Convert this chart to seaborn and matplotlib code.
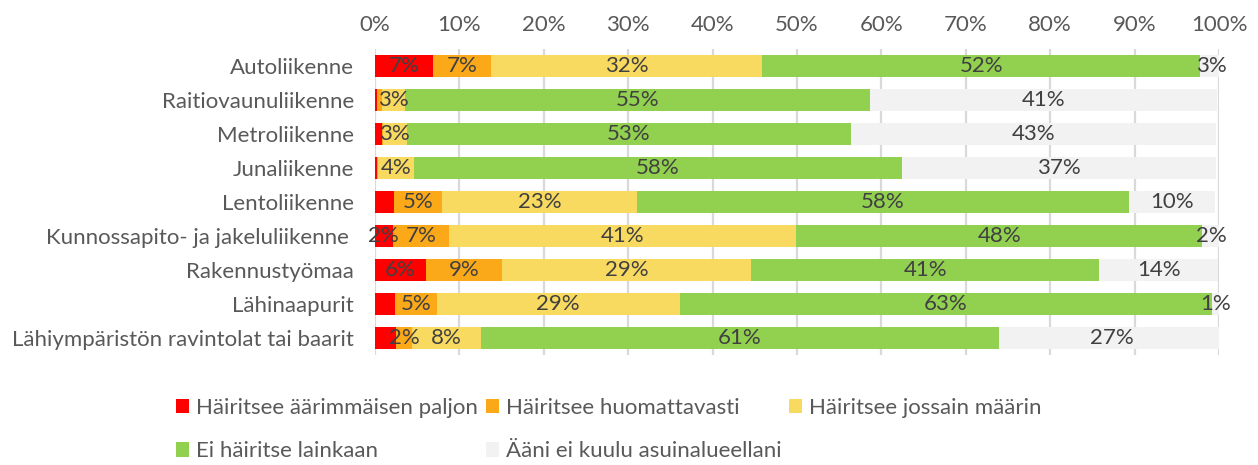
import numpy as np
import seaborn as sns
import matplotlib.pyplot as plt

# categories (top to bottom)
categories = ['Autoliikenne', 'Raitiovaunuliikenne', 'Metroliikenne', 'Junaliikenne',
              'Lentoliikenne', 'Kunnossapito- ja jakeluliikenne ', 'Rakennustyömaa',
              'Lähinaapurit', 'Lähiympäristön ravintolat tai baarit']

series_names = ['Häiritsee äärimmäisen paljon', 'Häiritsee huomattavasti',
                'Häiritsee jossain määrin', 'Ei häiritse lainkaan',
                'Ääni ei kuulu asuinalueellani']

# shares in percent
extreme = [6.9, 0.2, 0.8, 0.2, 2.3, 2.1, 6.0, 2.4, 2.5]
considerable = [6.8, 0.6, 0.1, 0.2, 5.6, 6.7, 9.1, 4.9, 1.9]
somewhat = [32.2, 2.8, 2.9, 4.2, 23.2, 41.1, 29.5, 28.8, 8.1]
not_at_all = [51.9, 55.1, 52.6, 57.8, 58.2, 48.1, 41.2, 63.1, 61.4]
not_heard = [2.7, 41.1, 43.2, 37.3, 10.2, 2.2, 14.1, 0.9, 26.7]

# data labels as shown in the chart ('' = no label)
extreme_lbl = ['7%', '', '', '', '', '2%', '6%', '', '']
considerable_lbl = ['7%', '', '', '', '5%', '7%', '9%', '5%', '2%']
somewhat_lbl = ['32%', '3%', '3%', '4%', '23%', '41%', '29%', '29%', '8%']
not_at_all_lbl = ['52%', '55%', '53%', '58%', '58%', '48%', '41%', '63%', '61%']
not_heard_lbl = ['3%', '41%', '43%', '37%', '10%', '2%', '14%', '1%', '27%']

colors = ['#FF0000', '#FBA919', '#F9DA60', '#92D050', '#F2F2F2']

sns.set_theme(style='white')
plt.rcParams['font.family'] = ['Lato', 'DejaVu Sans']

values = np.array([extreme, considerable, somewhat, not_at_all, not_heard])
labels = [extreme_lbl, considerable_lbl, somewhat_lbl, not_at_all_lbl, not_heard_lbl]
cum = np.cumsum(values, axis=0)

fig = plt.figure(figsize=(12.58, 4.65), dpi=100)
ax = fig.add_axes([0.2981, 0.2366, 0.6709, 0.658])

# draw cumulative totals from the last series to the first so they stack
for k in range(len(series_names) - 1, -1, -1):
    sns.barplot(x=cum[k], y=categories, color=colors[k], saturation=1,
                orient='h', width=0.62, errorbar=None, linewidth=0,
                label=series_names[k], ax=ax, zorder=2)

# data labels
for k in range(len(series_names)):
    for i in range(len(categories)):
        if labels[k][i]:
            left = cum[k][i] - values[k][i]
            ax.text(left + values[k][i] / 2, i, labels[k][i], ha='center', va='center',
                    fontsize=16, color='#404040', zorder=3)

ax.set_xlim(0, 100)
ax.set_ylim(8.5, -0.5)
ax.set_xticks(np.arange(0, 101, 10))
ax.set_xticklabels([f'{t}%' for t in range(0, 101, 10)])
ax.xaxis.tick_top()
ax.tick_params(axis='both', length=0, labelsize=16, labelcolor='#595959')
ax.tick_params(axis='y', pad=15)
ax.tick_params(axis='x', pad=10)
ax.set_xlabel('')
ax.set_ylabel('')
ax.grid(axis='x', color='#D9D9D9', linewidth=1.6, zorder=0)
ax.set_axisbelow(True)
for s in ax.spines.values():
    s.set_visible(False)

# legend: reorder so column-wise filling gives the reference rows
handles, lbls = ax.get_legend_handles_labels()
hmap = dict(zip(lbls, handles))
order = [0, 3, 1, 4, 2]
leg = fig.legend([hmap[series_names[o]] for o in order], [series_names[o] for o in order],
                 ncol=3, loc='center left', bbox_to_anchor=(0.124, 0.076),
                 frameon=False, fontsize=16, handlelength=0.6, handleheight=0.6,
                 handletextpad=0.3, columnspacing=0.35, labelspacing=1.05)
for t in leg.get_texts():
    t.set_color('#595959')
if ax.get_legend() is not None:
    ax.get_legend().remove()

fig.savefig('out.png', dpi=100)
